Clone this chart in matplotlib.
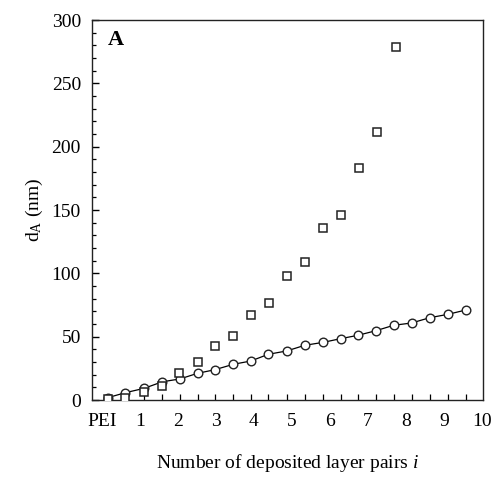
import numpy as np
import matplotlib
matplotlib.use("Agg")
from matplotlib import pyplot as plt

# Werte
kreis_x = [0.15, 0.62, 1.11, 1.59, 2.05, 2.52, 2.97, 3.46, 3.92, 4.38, 4.86,
           5.34, 5.82, 6.28, 6.74, 7.21, 7.68, 8.15, 8.63, 9.10, 9.57]
kreis_y = [1.8, 5.8, 9.2, 14.4, 16.6, 21.1, 23.9, 28.2, 30.8, 36.1, 38.7,
           43.2, 45.5, 48.4, 51.1, 54.7, 59.0, 60.8, 65.0, 67.6, 71.0]

quadrat_x = [0.15, 0.62, 1.11, 1.59, 2.03, 2.52, 2.97, 3.46, 3.92, 4.39,
             4.86, 5.34, 5.82, 6.29, 6.77, 7.24, 7.73]
quadrat_y = [0.8, 1.8, 6.6, 11.1, 21.1, 29.8, 42.9, 50.8, 67.1, 76.3,
             97.9, 109.2, 135.5, 146.0, 183.4, 211.8, 278.9]

x_ticks = [0, 1, 2, 3, 4, 5, 6, 7, 8, 9, 10]
x_labels = ["PEI", "1", "2", "3", "4", "5", "6", "7", "8", "9", "10"]
y_ticks = [0, 50, 100, 150, 200, 250, 300]


def main():
    plt.rcParams['font.family'] = ['Liberation Serif', 'DejaVu Serif']
    plt.rcParams['mathtext.fontset'] = 'custom'
    plt.rcParams['mathtext.rm'] = 'Liberation Serif'
    plt.rcParams['mathtext.it'] = 'Liberation Serif:italic'

    fig = plt.figure(figsize=(4.91, 4.79), dpi=100)
    ax = fig.add_axes([0.1874, 0.1649, 0.7963, 0.7933])

    ax.plot(kreis_x, kreis_y, '-', color='k', lw=0.9, zorder=2)
    ax.plot(kreis_x, kreis_y, 'o', ms=6.2, mfc='white', mec='#222222', mew=1.0,
            zorder=3)
    ax.plot(quadrat_x, quadrat_y, 's', ms=5.8, mfc='white', mec='#222222',
            mew=1.1, zorder=4)

    ax.set_xlim(-0.26, 10.03)
    ax.set_ylim(0, 300)

    # Beschriftete Hauptticks ohne Strich, Striche an den Messpunkten
    ax.set_xticks(x_ticks)
    ax.set_xticklabels(x_labels)
    ax.set_xticks(kreis_x, minor=True)
    ax.tick_params(axis='x', which='major', length=0, pad=9, labelsize=14)
    ax.tick_params(axis='x', which='minor', direction='in', length=4, width=0.9)

    ax.set_yticks(y_ticks)
    ax.set_yticks(np.arange(0, 301, 10), minor=True)
    ax.tick_params(axis='y', which='major', direction='in', length=5, width=1,
                   labelsize=14, pad=8)
    ax.tick_params(axis='y', which='minor', direction='in', length=3, width=0.9)
    ax.tick_params(top=False, right=False, which='both')

    for sp in ax.spines.values():
        sp.set_linewidth(1.0)
        sp.set_color('#222222')

    ax.set_xlabel(r'Number of deposited layer pairs $\mathit{i}$', fontsize=14,
                  labelpad=16)
    ax.set_ylabel(r'd$_\mathrm{A}$ (nm)', fontsize=14, labelpad=5)

    ax.text(0.04, 0.975, 'A', transform=ax.transAxes, fontsize=16,
            fontweight='bold', va='top', ha='left')

    fig.savefig('out.png', dpi=100)


if __name__ == "__main__":
    main()
